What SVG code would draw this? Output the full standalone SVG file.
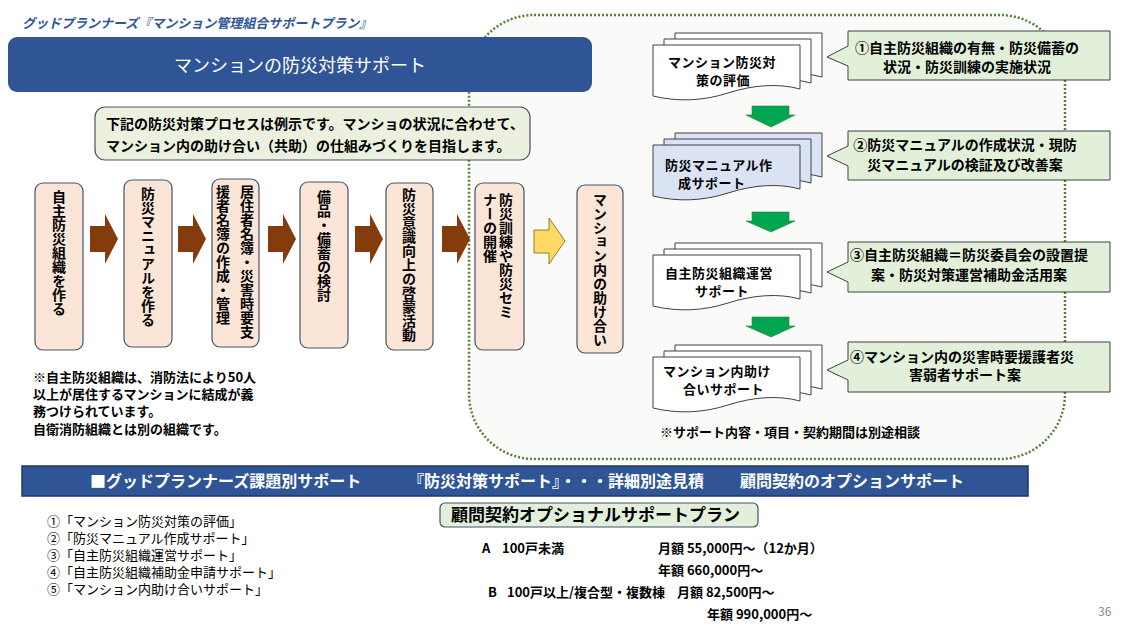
<svg xmlns="http://www.w3.org/2000/svg" width="1131" height="637" viewBox="0 0 1131 637">
<style>
text{font-family:'Noto Sans CJK JP','Noto Sans',sans-serif;fill:#000}
.b{font-weight:bold}
.step{fill:#fbe5d6;stroke:#44546a;stroke-width:1.2}
.vt{writing-mode:vertical-rl;font-size:14px;font-weight:bold}
.brown{fill:#843c0c}
.green{fill:#00a550;stroke:#2e7d32;stroke-width:0.6}
.doc{stroke:#404040;stroke-width:1}
.call{fill:#e2f0d9;stroke:#404040;stroke-width:1}
.ct{font-size:14px;font-weight:bold;text-anchor:middle}
.dt{font-size:13px;font-weight:bold;letter-spacing:0.5px}
.li{font-size:13px}
</style>
<defs>
<path id="docshape" d="M0,0 H147 V44 C125,38 100,40 75,48 C50,56 25,57 0,51 Z"/>
</defs>
<rect width="1131" height="637" fill="#ffffff"/>

<g id="region">
<rect x="469" y="15" width="596" height="444" rx="65" fill="#fafbf8" stroke="#548235" stroke-width="2.5" stroke-dasharray="2 2"/>
</g>

<g id="header">
<text x="22" y="28" font-size="13" font-style="italic" class="b" style="fill:#2f5597">グッドプランナーズ『マンション管理組合サポートプラン』</text>
</g>

<g id="title">
<rect x="8" y="37" width="584" height="55" rx="9" fill="#2f5597"/>
<text x="300" y="72" font-size="18" text-anchor="middle" style="fill:#ffffff">マンションの防災対策サポート</text>
</g>

<g id="intro">
<rect x="95" y="107" width="435" height="53" rx="10" fill="#ebf1de" stroke="#44546a" stroke-width="1.2"/>
<text x="106" y="129" font-size="14" class="b">下記の防災対策プロセスは例示です。マンショの状況に合わせて、</text>
<text x="106" y="151" font-size="14" class="b">マンション内の助け合い（共助）の仕組みづくりを目指します。</text>
</g>

<g id="step1"><rect class="step" x="35" y="183" width="48" height="167" rx="8"/><text class="vt" x="59" y="190">自主防災組織を作る</text></g>
<g id="step2"><rect class="step" x="124" y="180" width="48" height="167" rx="8"/><text class="vt" x="148" y="187">防災マニュアルを作る</text></g>
<g id="step3"><rect class="step" x="212" y="179" width="47" height="168" rx="8"/><text class="vt" x="247" y="185">居住者名簿・災害時要支</text><text class="vt" x="223" y="185">援者名簿の作成・管理</text></g>
<g id="step4"><rect class="step" x="300" y="182" width="48" height="166" rx="8"/><text class="vt" x="324" y="190">備品・備蓄の検討</text></g>
<g id="step5"><rect class="step" x="386" y="183" width="47" height="167" rx="8"/><text class="vt" x="409" y="188">防災意識向上の啓蒙活動</text></g>
<g id="step6"><rect class="step" x="475" y="183" width="49" height="167" rx="8"/><text class="vt" x="506" y="193">防災訓練や防災セミ</text><text class="vt" x="490" y="193">ナーの開催</text></g>
<g id="step7"><rect class="step" x="577" y="185" width="46" height="168" rx="8"/><text class="vt" x="600" y="193">マンション内の助け合い</text></g>

<g id="connectors">
<polygon class="brown" points="90,226 105,226 105,214 118,239 105,264 105,252 90,252"/>
<polygon class="brown" points="178,226 193,226 193,214 206,239 193,264 193,252 178,252"/>
<polygon class="brown" points="268,226 283,226 283,214 296,239 283,264 283,252 268,252"/>
<polygon class="brown" points="355,226 370,226 370,214 383,239 370,264 370,252 355,252"/>
<polygon class="brown" points="442,226 457,226 457,214 470,239 457,264 457,252 442,252"/>
<polygon points="534,230 549,230 549,218 565,241 549,264 549,253 534,253" fill="#ffd966" stroke="#7f6000" stroke-width="0.8"/>
<polygon class="green" points="752,106 789,106 789,115 795,115 771,127 746,115 752,115"/>
<polygon class="green" points="752,212 789,212 789,221 795,221 771,232 746,221 752,221"/>
<polygon class="green" points="752,317 789,317 789,326 795,326 771,337 746,326 752,326"/>
</g>

<g id="note">
<text x="33" y="382" font-size="13" class="b">※自主防災組織は、消防法により50人</text>
<text x="33" y="399" font-size="13" class="b">以上が居住するマンションに結成が義</text>
<text x="33" y="416" font-size="13" class="b">務つけられています。</text>
<text x="33" y="434" font-size="13" class="b">自衛消防組織とは別の組織です。</text>
</g>

<g id="doc1">
<use href="#docshape" class="doc" fill="#ffffff" transform="translate(675,33)"/>
<use href="#docshape" class="doc" fill="#ffffff" transform="translate(664,39)"/>
<use href="#docshape" class="doc" fill="#ffffff" transform="translate(653,45)"/>
<text class="dt" x="668" y="67">マンション防災対</text>
<text class="dt" x="696" y="85">策の評価</text>
</g>
<g id="doc2">
<use href="#docshape" class="doc" fill="#dae3f3" transform="translate(675,133)"/>
<use href="#docshape" class="doc" fill="#dae3f3" transform="translate(664,139)"/>
<use href="#docshape" class="doc" fill="#dae3f3" transform="translate(653,145)"/>
<text class="dt" x="665" y="170">防災マニュアル作</text>
<text class="dt" x="678" y="188">成サポート</text>
</g>
<g id="doc3">
<use href="#docshape" class="doc" fill="#ffffff" transform="translate(675,243)"/>
<use href="#docshape" class="doc" fill="#ffffff" transform="translate(664,249)"/>
<use href="#docshape" class="doc" fill="#ffffff" transform="translate(653,255)"/>
<text class="dt" x="665" y="278">自主防災組織運営</text>
<text class="dt" x="695" y="296">サポート</text>
</g>
<g id="doc4">
<use href="#docshape" class="doc" fill="#ffffff" transform="translate(675,345)"/>
<use href="#docshape" class="doc" fill="#ffffff" transform="translate(664,351)"/>
<use href="#docshape" class="doc" fill="#ffffff" transform="translate(653,357)"/>
<text class="dt" x="663" y="376">マンション内助け</text>
<text class="dt" x="683" y="394">合いサポート</text>
</g>

<g id="callout1">
<path class="call" d="M848,31 H1110 V80 H848 V66 L827,57 L848,46 Z"/>
<text class="ct" x="967" y="53">①自主防災組織の有無・防災備蓄の</text>
<text class="ct" x="967" y="72">状況・防災訓練の実施状況</text>
</g>
<g id="callout2">
<path class="call" d="M848,131 H1110 V180 H848 V166 L827,156 L848,146 Z"/>
<text class="ct" x="965" y="150">②防災マニュアルの作成状況・現防</text>
<text class="ct" x="965" y="170">災マニュアルの検証及び改善案</text>
</g>
<g id="callout3">
<path class="call" d="M848,242 H1110 V292 H848 V282 L827,272 L848,262 Z"/>
<text class="ct" x="969" y="260">③自主防災組織＝防災委員会の設置提</text>
<text class="ct" x="969" y="280">案・防災対策運営補助金活用案</text>
</g>
<g id="callout4">
<path class="call" d="M848,342 H1110 V392 H848 V380 L827,370 L848,360 Z"/>
<text class="ct" x="962" y="362">④マンション内の災害時要援護者災</text>
<text class="ct" x="965" y="380">害弱者サポート案</text>
</g>

<g id="support-note">
<text x="660" y="437" font-size="13" class="b">※サポート内容・項目・契約期間は別途相談</text>
</g>

<g id="bottom-bar">
<rect x="22" y="466" width="1006" height="30" fill="#2f5597" stroke="#1f3864" stroke-width="1.5"/>
<text x="90" y="487" font-size="16" class="b" style="fill:#ffffff">■グッドプランナーズ課題別サポート</text>
<text x="408" y="487" font-size="16" class="b" style="fill:#ffffff">『防災対策サポート』・・・詳細別途見積</text>
<text x="740" y="487" font-size="16" class="b" style="fill:#ffffff">顧問契約のオプションサポート</text>
</g>

<g id="list">
<text class="li" x="47" y="526">①「マンション防災対策の評価」</text>
<text class="li" x="47" y="543">②「防災マニュアル作成サポート」</text>
<text class="li" x="47" y="560">③「自主防災組織運営サポート」</text>
<text class="li" x="47" y="577">④「自主防災組織補助金申請サポート」</text>
<text class="li" x="47" y="594">⑤「マンション内助け合いサポート」</text>
</g>

<g id="plan">
<rect x="440" y="503" width="318" height="24" rx="5" fill="#e2efda" stroke="#44546a" stroke-width="1.2"/>
<text x="451" y="521" font-size="17" class="b">顧問契約オプショナルサポートプラン</text>
<text x="482" y="553" font-size="13" class="b">A</text>
<text x="502" y="553" font-size="13" class="b">100戸未満</text>
<text x="658" y="553" font-size="13" class="b">月額 55,000円～（12か月）</text>
<text x="658" y="575" font-size="13" class="b">年額 660,000円～</text>
<text x="488" y="597" font-size="13" class="b">B</text>
<text x="507" y="597" font-size="13" class="b">100戸以上/複合型・複数棟</text>
<text x="677" y="597" font-size="13" class="b">月額 82,500円～</text>
<text x="707" y="619" font-size="13" class="b">年額 990,000円～</text>
</g>

<g id="page">
<text x="1098" y="616" font-size="12" style="fill:#8c8c8c">36</text>
</g>
</svg>
